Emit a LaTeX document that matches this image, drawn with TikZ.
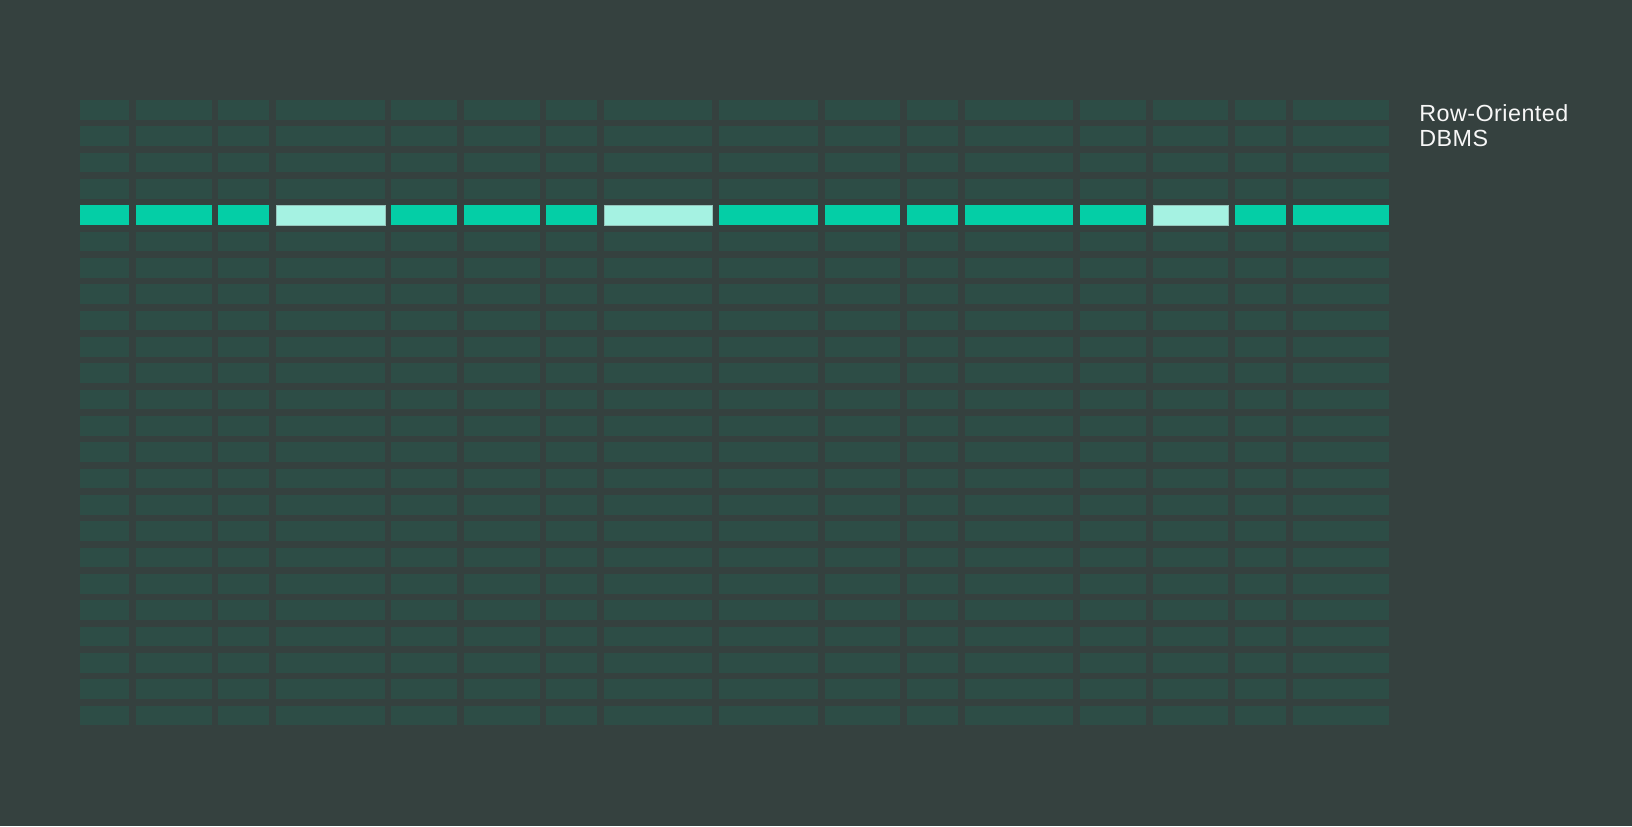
\documentclass[tikz,border=0pt]{standalone}
\usepackage{fontspec}
\setmainfont{Liberation Sans}
\newfontfamily\labelfont[LetterSpace=2]{Liberation Sans}

\definecolor{bgcol}{RGB}{53,65,63}
\definecolor{cellcol}{RGB}{45,77,70}
\definecolor{hitcol}{RGB}{4,206,166}
\definecolor{palecol}{RGB}{165,242,226}

\newcommand*{\rowtop}{100}
\newcommand*{\rowpitch}{26.33}
\newcommand*{\rowh}{19.8}
\newcommand*{\hitrow}{5}

\begin{document}
\begin{tikzpicture}
[
	x=0.75pt,y=-0.75pt,
	cell/.style={fill=cellcol},
	hitcell/.style={fill=hitcol},
	palecell/.style={fill=palecol,draw=palecol!60!gray,line width=0.4pt},
	label text/.style={anchor=base west,inner sep=0pt,text=white!94!gray,font=\labelfont\fontsize{17.5}{19}\selectfont}
]

	% background
	\fill[bgcol] (0,0) rectangle (1632,826);
	\useasboundingbox (0,0) rectangle (1632,826);

	% grid of records
	\foreach \r in {1,...,24} {
		\foreach \xa/\xb in {80/129,136/212,218/269,276/385,391/457,464/540,546/597,604/712,
		                     719/818,825/900,907/958,965/1073,1080/1146,1153/1228,1235/1286,1293/1389} {
			\pgfmathsetmacro{\ya}{\rowtop+(\r-1)*\rowpitch}
			\fill[cellcol] (\xa,\ya) rectangle (\xb,\ya+\rowh);
		}
	}

	% highlighted record
	\pgfmathsetmacro{\yh}{\rowtop+(\hitrow-1)*\rowpitch}
	\foreach \xa/\xb/\st in {80/129/hitcell,136/212/hitcell,218/269/hitcell,276/385/palecell,
	                         391/457/hitcell,464/540/hitcell,546/597/hitcell,604/712/palecell,
	                         719/818/hitcell,825/900/hitcell,907/958/hitcell,965/1073/hitcell,
	                         1080/1146/hitcell,1153/1228/palecell,1235/1286/hitcell,1293/1389/hitcell} {
		\path[\st] (\xa,\yh) rectangle (\xb,\yh+\rowh);
	}

	% label
	\node[label text] (title) at (1419,121) {Row-Oriented};
	\node[label text] (subtitle) at (1419,146) {DBMS};

\end{tikzpicture}
\end{document}
